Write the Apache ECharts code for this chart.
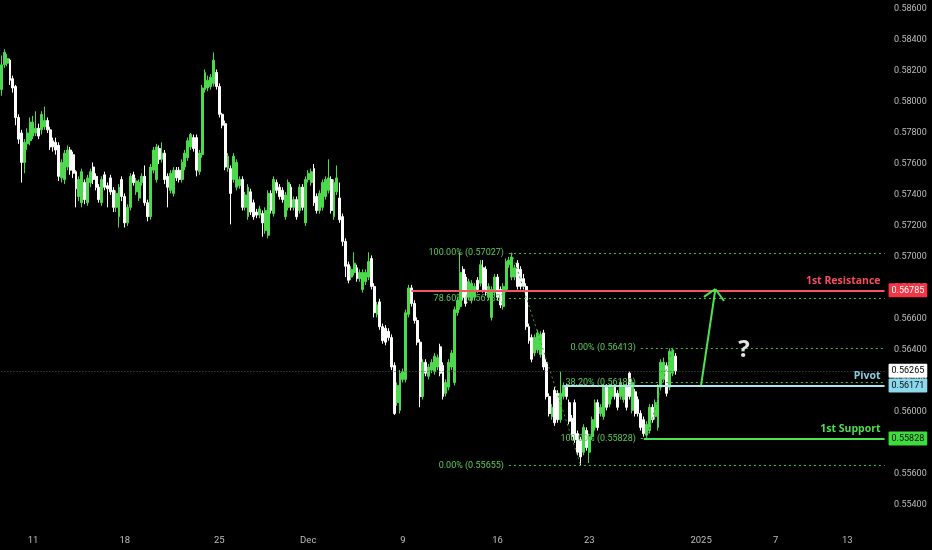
<!DOCTYPE html>
<html><head><meta charset="utf-8">
<script src="https://cdn.jsdelivr.net/npm/echarts@6/dist/echarts.min.js"></script>
<style>html,body{margin:0;padding:0;background:#000;}#c{width:932px;height:550px;}</style>
</head><body><div id="c"></div>
<script>
// OHLC per 4h bar: [open, close, low, high]
const candles = [
[0.5808,0.5824,0.5804,0.5830],[0.5824,0.5832,0.5822,0.5834],[0.5825,0.5828,0.5823,0.5831],[0.5827,0.5814,0.5811,0.5828],
[0.5815,0.5809,0.5806,0.5817],[0.5810,0.5790,0.5785,0.5811],[0.5790,0.5776,0.5773,0.5792],[0.5780,0.5761,0.5748,0.5782],
[0.5761,0.5774,0.5754,0.5776],[0.5773,0.5780,0.5769,0.5783],[0.5775,0.5787,0.5772,0.5790],[0.5778,0.5787,0.5776,0.5791],
[0.5780,0.5783,0.5778,0.5794],[0.5783,0.5778,0.5776,0.5786],[0.5782,0.5792,0.5779,0.5794],[0.5784,0.5788,0.5782,0.5797],
[0.5788,0.5782,0.5780,0.5790],[0.5782,0.5771,0.5769,0.5784],[0.5775,0.5771,0.5768,0.5777],[0.5774,0.5769,0.5766,0.5777],
[0.5772,0.5752,0.5749,0.5774],[0.5751,0.5761,0.5748,0.5763],[0.5750,0.5767,0.5747,0.5769],[0.5758,0.5769,0.5756,0.5772],
[0.5769,0.5756,0.5753,0.5771],[0.5766,0.5754,0.5751,0.5768],[0.5755,0.5744,0.5732,0.5756],[0.5739,0.5750,0.5736,0.5752],
[0.5735,0.5755,0.5732,0.5757],[0.5748,0.5737,0.5734,0.5750],[0.5735,0.5751,0.5733,0.5753],[0.5748,0.5755,0.5745,0.5757],
[0.5758,0.5750,0.5747,0.5761],[0.5752,0.5745,0.5743,0.5754],[0.5745,0.5737,0.5735,0.5747],[0.5735,0.5750,0.5733,0.5752],
[0.5753,0.5745,0.5743,0.5755],[0.5746,0.5744,0.5732,0.5748],[0.5751,0.5742,0.5740,0.5753],[0.5743,0.5732,0.5729,0.5745],
[0.5732,0.5741,0.5729,0.5743],[0.5726,0.5745,0.5719,0.5747],[0.5750,0.5739,0.5736,0.5752],[0.5739,0.5722,0.5719,0.5741],
[0.5722,0.5732,0.5720,0.5734],[0.5732,0.5752,0.5730,0.5754],[0.5753,0.5748,0.5746,0.5755],[0.5742,0.5749,0.5740,0.5751],
[0.5738,0.5748,0.5736,0.5750],[0.5748,0.5752,0.5746,0.5754],[0.5752,0.5735,0.5733,0.5759],[0.5735,0.5726,0.5723,0.5737],
[0.5726,0.5758,0.5724,0.5760],[0.5756,0.5769,0.5754,0.5771],[0.5750,0.5771,0.5748,0.5773],[0.5770,0.5763,0.5760,0.5772],
[0.5763,0.5767,0.5761,0.5774],[0.5767,0.5750,0.5747,0.5769],
[0.5752,0.5745,0.5732,0.5754],[0.5743,0.5754,0.5741,0.5756],[0.5741,0.5756,0.5739,0.5758],[0.5756,0.5751,0.5749,0.5758],
[0.5756,0.5750,0.5748,0.5758],[0.5750,0.5761,0.5748,0.5763],[0.5758,0.5767,0.5756,0.5769],[0.5764,0.5775,0.5762,0.5777],
[0.5771,0.5779,0.5769,0.5780],[0.5777,0.5770,0.5768,0.5779],[0.5777,0.5756,0.5752,0.5779],[0.5755,0.5767,0.5753,0.5769],
[0.5766,0.5809,0.5764,0.5811],[0.5808,0.5819,0.5806,0.5821],[0.5809,0.5814,0.5807,0.5817],[0.5810,0.5816,0.5808,0.5818],
[0.5812,0.5827,0.5810,0.5832],[0.5819,0.5810,0.5808,0.5821],[0.5810,0.5792,0.5790,0.5812],[0.5792,0.5785,0.5783,0.5793],
[0.5786,0.5758,0.5756,0.5788],[0.5757,0.5765,0.5755,0.5767],[0.5757,0.5741,0.5721,0.5759],[0.5750,0.5765,0.5748,0.5767],
[0.5745,0.5761,0.5743,0.5763],[0.5746,0.5750,0.5744,0.5752],[0.5750,0.5732,0.5730,0.5752],[0.5732,0.5740,0.5730,0.5742],
[0.5726,0.5745,0.5724,0.5747],[0.5742,0.5729,0.5727,0.5744],[0.5735,0.5726,0.5724,0.5737],[0.5729,0.5727,0.5725,0.5731],
[0.5727,0.5731,0.5725,0.5733],[0.5728,0.5722,0.5713,0.5730],[0.5717,0.5730,0.5715,0.5732],[0.5714,0.5741,0.5712,0.5743],
[0.5741,0.5730,0.5728,0.5743],[0.5728,0.5750,0.5726,0.5752],[0.5748,0.5743,0.5741,0.5750],[0.5745,0.5739,0.5737,0.5747],
[0.5743,0.5737,0.5735,0.5745],[0.5726,0.5740,0.5724,0.5742],[0.5732,0.5748,0.5730,0.5750],[0.5745,0.5732,0.5730,0.5747],
[0.5732,0.5737,0.5730,0.5739],[0.5737,0.5726,0.5724,0.5739],[0.5730,0.5745,0.5728,0.5747],[0.5745,0.5732,0.5730,0.5747],
[0.5722,0.5750,0.5720,0.5752],[0.5750,0.5754,0.5748,0.5756],[0.5748,0.5755,0.5746,0.5757],[0.5757,0.5735,0.5733,0.5760],
[0.5739,0.5730,0.5728,0.5741],[0.5730,0.5741,0.5728,0.5743],[0.5732,0.5748,0.5730,0.5750],[0.5739,0.5750,0.5737,0.5752],
[0.5743,0.5751,0.5741,0.5763],[0.5750,0.5730,0.5728,0.5752],[0.5726,0.5748,0.5724,0.5750],
[0.5742,0.5751,0.5740,0.5759],[0.5738,0.5724,0.5722,0.5748],[0.5726,0.5710,0.5707,0.5728],[0.5710,0.5694,0.5687,0.5712],
[0.5695,0.5685,0.5683,0.5697],[0.5687,0.5692,0.5685,0.5694],[0.5690,0.5696,0.5688,0.5703],[0.5693,0.5686,0.5684,0.5695],
[0.5686,0.5690,0.5684,0.5692],[0.5679,0.5690,0.5677,0.5692],[0.5684,0.5690,0.5682,0.5692],[0.5687,0.5697,0.5685,0.5703],
[0.5699,0.5681,0.5679,0.5701],[0.5681,0.5664,0.5661,0.5683],[0.5663,0.5669,0.5661,0.5671],[0.5671,0.5655,0.5653,0.5673],
[0.5655,0.5646,0.5644,0.5657],[0.5654,0.5645,0.5643,0.5656],[0.5652,0.5648,0.5646,0.5654],[0.5648,0.5629,0.5627,0.5650],
[0.5630,0.5599,0.5598,0.5632],[0.5606,0.5617,0.5604,0.5619],[0.5601,0.5625,0.5599,0.5627],[0.5621,0.5626,0.5619,0.5628],
[0.5621,0.5664,0.5619,0.5666],[0.5663,0.5680,0.5661,0.5682],[0.5680,0.5670,0.5668,0.5682],[0.5670,0.5659,0.5657,0.5672],
[0.5659,0.5645,0.5643,0.5661],[0.5645,0.5610,0.5603,0.5647],[0.5610,0.5632,0.5608,0.5634],[0.5632,0.5625,0.5623,0.5634],
[0.5623,0.5629,0.5621,0.5631],[0.5627,0.5632,0.5625,0.5634],[0.5626,0.5636,0.5624,0.5638],[0.5629,0.5635,0.5627,0.5637],
[0.5642,0.5625,0.5623,0.5644],[0.5630,0.5610,0.5608,0.5632],[0.5612,0.5619,0.5610,0.5621],[0.5616,0.5632,0.5614,0.5634],
[0.5629,0.5638,0.5627,0.5640],[0.5619,0.5666,0.5617,0.5668],[0.5664,0.5672,0.5662,0.5674],[0.5668,0.5690,0.5666,0.5703],
[0.5692,0.5674,0.5672,0.5694],[0.5687,0.5670,0.5668,0.5689],[0.5674,0.5684,0.5672,0.5686],[0.5672,0.5683,0.5670,0.5685],
[0.5674,0.5681,0.5672,0.5683],[0.5685,0.5679,0.5677,0.5687],[0.5683,0.5695,0.5681,0.5698],[0.5693,0.5679,0.5677,0.5698],
[0.5692,0.5677,0.5675,0.5694],[0.5674,0.5681,0.5672,0.5683],[0.5661,0.5679,0.5659,0.5681],[0.5677,0.5687,0.5675,0.5689],
[0.5687,0.5674,0.5672,0.5689],[0.5679,0.5669,0.5667,0.5681],[0.5668,0.5681,0.5666,0.5683],[0.5679,0.5697,0.5677,0.5699],
[0.5695,0.5698,0.5693,0.5700],
[0.5687,0.5700,0.5685,0.57027],[0.5687,0.5693,0.5685,0.5695],[0.5696,0.5681,0.5679,0.5698],[0.5692,0.5681,0.5679,0.5694],
[0.5686,0.5681,0.5679,0.5689],[0.5681,0.5655,0.5653,0.5683],[0.5655,0.5646,0.5644,0.5657],[0.5648,0.5634,0.5632,0.5650],
[0.5638,0.5648,0.5636,0.5650],[0.5640,0.5651,0.5638,0.5653],[0.5637,0.5650,0.5635,0.5652],[0.5651,0.5629,0.5627,0.5653],
[0.5632,0.5610,0.5608,0.5634],[0.5610,0.5599,0.5597,0.5612],[0.5597,0.5603,0.5595,0.5605],[0.5614,0.5593,0.5591,0.5616],
[0.5612,0.5595,0.5593,0.5614],[0.5595,0.5612,0.5593,0.5626],[0.5610,0.5617,0.5608,0.5619],[0.5616,0.5610,0.5608,0.5618],
[0.5606,0.5594,0.5592,0.5608],[0.5596,0.5584,0.5582,0.5598],[0.5606,0.5582,0.5580,0.5608],[0.5586,0.5574,0.5572,0.5588],
[0.5582,0.5571,0.55655,0.5584],[0.5574,0.5590,0.5572,0.5592],[0.5588,0.5577,0.5575,0.5590],[0.5574,0.5584,0.5567,0.5586],
[0.5584,0.5595,0.5582,0.5597],[0.5590,0.5606,0.5588,0.5608],[0.5606,0.5590,0.5588,0.5608],[0.5599,0.5603,0.5597,0.5605],
[0.5597,0.5616,0.5595,0.5618],[0.5616,0.5603,0.5601,0.5618],[0.5605,0.5616,0.5603,0.5618],[0.5610,0.5616,0.5608,0.5618],
[0.5616,0.5610,0.5608,0.5618],[0.5612,0.5603,0.5601,0.5614],[0.5610,0.5619,0.5608,0.5621],[0.5608,0.5616,0.5606,0.5618],
[0.5616,0.5603,0.5601,0.5618],[0.5625,0.5610,0.5608,0.5626],[0.5601,0.5619,0.5599,0.5621],[0.5613,0.5599,0.5597,0.5615],
[0.5608,0.5599,0.5597,0.5610],[0.5599,0.5590,0.5588,0.5601],[0.5595,0.5586,0.5584,0.5597],[0.5585,0.5592,0.55828,0.5594],
[0.5588,0.5603,0.5586,0.5605],[0.5603,0.5595,0.5593,0.5605],[0.5597,0.5606,0.5595,0.5608],[0.5590,0.5616,0.5588,0.5618],
[0.5616,0.5632,0.5614,0.5634],[0.5621,0.5632,0.5619,0.5635],[0.5630,0.5612,0.5610,0.5632],[0.5616,0.5639,0.5614,0.5641],
[0.5625,0.5640,0.5623,0.56413],[0.5636,0.56265,0.5624,0.5638]
];
const barCount = 309; // bars on the time axis (incl. empty future space)
const dateTickIndex = [11, 43, 76, 107, 140, 173, 205, 244, 270, 295];
const dateTickText = ['11', '18', '25', 'Dec', '9', '16', '23', '2025', '7', '13'];
const priceTicks = [0.554,0.556,0.558,0.560,0.562,0.564,0.566,0.568,0.570,0.572,0.574,0.576,0.578,0.580,0.582,0.584,0.586];

const fibAPrices = [0.57027, 0.56733, 0.55655];
const fibALabels = ['100.00%', '78.60%', '0.00%'];
const fibAStartBar = 177;
const fibATrend = [[178, 0.57027], [202, 0.55655]];
const fibBPrices = [0.56413, 0.56189, 0.55828];
const fibBLabels = ['0.00%', '38.20%', '100.00%'];
const fibBStartBar = 223;
const fibBTrend = [[225, 0.55828], [234, 0.56413]];

const levelNames = ['1st Resistance', 'Pivot', '1st Support'];
const levelPrices = [0.56785, 0.56171, 0.55828];
const levelStartBar = [143, 196, 224];
const currentPrice = 0.56265;

const arrowShaft = [[244, 0.56171], [249, 0.56793]];
const arrowWings = [[245, 0.56742], [252, 0.56716]];
const questionMark = [259, 0.56400];

// ---- styles ----
const GREEN = '#4cd94c', WHITE = '#ffffff';
const levelLine = ['#f25563', '#b0e4f2', '#4ee24e'];
const levelText = ['#f0505e', '#86cfe3', '#4fdc4f'];
const tagBg = ['#f23645', '#8cd8ec', '#3ddc3d'];
const tagFg = ['#ffffff', '#0b0b0b', '#0b0b0b'];
const FONT = "Roboto, 'Liberation Sans', sans-serif";
const lastBar = barCount - 1;

const categories = Array.from({length: barCount}, (_, i) => String(i));

function fibLines(prices, labels, start) {
  return prices.map((p, k) => [
    {coord: [start, p], label: {show: true, position: 'start', distance: 5, formatter: labels[k] + ' (' + p.toFixed(5) + ')',
      color: '#5acb5a', fontSize: 9, fontFamily: FONT}},
    {coord: [lastBar, p]}
  ]);
}

const underLines = [].concat(
  fibLines(fibAPrices, fibALabels, fibAStartBar),
  fibLines(fibBPrices, fibBLabels, fibBStartBar),
  [[{coord: fibATrend[0], lineStyle: {type: [2, 3], color: '#3a9a3a', width: 1}, label: {show: false}}, {coord: fibATrend[1]}]],
  [[{coord: fibBTrend[0], lineStyle: {type: [2, 3], color: '#3a9a3a', width: 1}, label: {show: false}}, {coord: fibBTrend[1]}]],
  [[{coord: [0, currentPrice], lineStyle: {type: [1, 2], color: '#5a5a5a', width: 1}, label: {show: false}}, {coord: [lastBar, currentPrice]}]]
);

const overLines = [];
levelPrices.forEach((p, k) => {
  overLines.push([
    {coord: [levelStartBar[k], p], lineStyle: {color: levelLine[k], width: 2, type: 'solid'},
     label: {show: true, position: 'insideEndTop', distance: 4, formatter: levelNames[k], color: levelText[k],
       fontSize: 10.5, fontWeight: 'bold', fontFamily: "'Open Sans', Roboto, sans-serif"}},
    {coord: [lastBar, p]}
  ]);
});
overLines.push([
  {coord: arrowShaft[0], lineStyle: {color: '#4ee44e', width: 2, type: 'solid'}, label: {show: false}},
  {coord: arrowShaft[1]}
]);
arrowWings.forEach(w => overLines.push([
  {coord: arrowShaft[1], lineStyle: {color: '#4ee44e', width: 2, type: 'solid'}, label: {show: false}},
  {coord: w}
]));

// price tags on the axis
const tagPrices = [levelPrices[0], currentPrice, levelPrices[1], levelPrices[2]];
const tagBgs = [tagBg[0], '#ffffff', tagBg[1], tagBg[2]];
const tagFgs = [tagFg[0], '#000000', tagFg[1], tagFg[2]];
const tagLines = tagPrices.map((p, k) => [
  {coord: [lastBar - 1, p], lineStyle: {color: 'rgba(0,0,0,0)', width: 1, type: 'solid'},
   label: {show: true, position: 'end', distance: 4, formatter: p.toFixed(5), backgroundColor: tagBgs[k], color: tagFgs[k],
     padding: [3, 3, 2, 3], fontSize: 9, fontFamily: FONT, borderRadius: 1}},
  {coord: [lastBar, p]}
]);

const chart = echarts.init(document.getElementById('c'), null, {renderer: 'canvas'});
chart.setOption({
  backgroundColor: '#000000',
  animation: false,
  grid: {left: 0, right: 46, top: 0, bottom: 22, containLabel: false},
  xAxis: {
    type: 'category', data: categories, boundaryGap: true,
    axisLine: {show: false}, axisTick: {show: false}, splitLine: {show: false},
    axisLabel: {
      interval: (idx) => dateTickIndex.includes(idx),
      formatter: (v) => { const k = dateTickIndex.indexOf(Number(v)); return k >= 0 ? dateTickText[k] : ''; },
      color: '#bdbdbd', fontSize: 9.5, fontFamily: FONT, margin: 8
    }
  },
  yAxis: {
    type: 'value', position: 'right', min: 0.55251, max: 0.58658,
    axisLine: {show: false}, axisTick: {show: false}, splitLine: {show: false},
    axisLabel: {customValues: priceTicks, formatter: (v) => v.toFixed(5), color: '#bdbdbd', fontSize: 9, fontFamily: FONT, margin: 8}
  },
  series: [
    {type: 'line', data: [], z: 1, silent: true,
     markLine: {symbol: ['none', 'none'], silent: true, animation: false,
       lineStyle: {color: '#45c145', width: 1, type: [2, 3]}, data: underLines}},
    {type: 'candlestick', data: candles, z: 2, barWidth: 2.4,
     itemStyle: {color: GREEN, color0: WHITE, borderColor: GREEN, borderColor0: WHITE, borderWidth: 1}},
    {type: 'line', data: [], z: 5, silent: true,
     markLine: {symbol: ['none', 'none'], silent: true, animation: false, data: overLines.concat(tagLines)},
     markPoint: {silent: true, animation: false, data: [{coord: questionMark, symbol: 'circle', symbolSize: 1,
       itemStyle: {color: 'rgba(0,0,0,0)'},
       label: {show: true, position: 'inside', formatter: '?', color: '#e4e4e4', fontSize: 24, fontWeight: 'bold', fontFamily: "'Open Sans', sans-serif"}}]}}
  ]
});
</script>
</body></html>
